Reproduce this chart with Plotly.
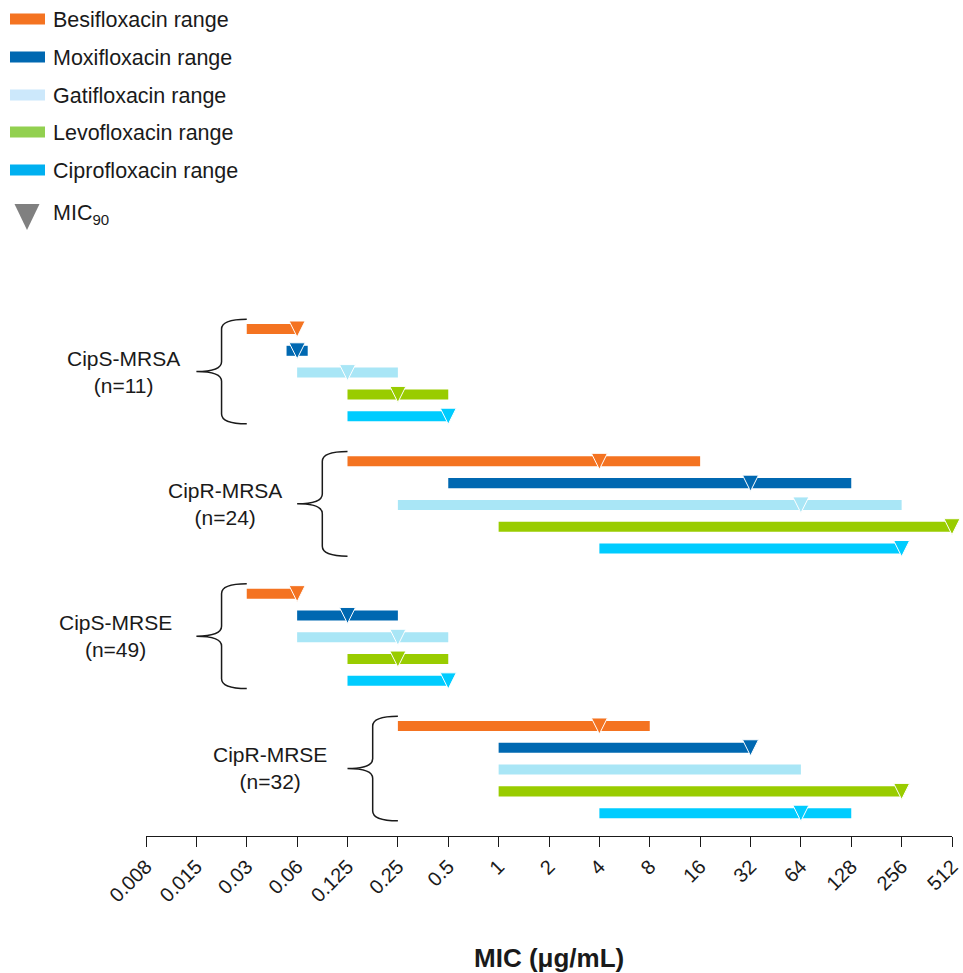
import plotly.graph_objects as go

# ---------------- data ----------------
MIC_STEPS = [0.008, 0.015, 0.03, 0.06, 0.125, 0.25, 0.5, 1, 2, 4, 8, 16, 32, 64, 128, 256, 512]
TICK_LABELS = ["0.008", "0.015", "0.03", "0.06", "0.125", "0.25", "0.5", "1", "2", "4",
               "8", "16", "32", "64", "128", "256", "512"]

GROUPS = ["CipS-MRSA", "CipR-MRSA", "CipS-MRSE", "CipR-MRSE"]
GROUP_N = [11, 24, 49, 32]

DRUGS = ["Besifloxacin", "Moxifloxacin", "Gatifloxacin", "Levofloxacin", "Ciprofloxacin"]

BESI_MIN = [0.03, 0.125, 0.03, 0.25]
BESI_MAX = [0.06, 16, 0.06, 8]
BESI_MIC90 = [0.06, 4, 0.06, 4]

MOXI_MIN = [0.06, 0.5, 0.06, 1]
MOXI_MAX = [0.06, 128, 0.25, 32]
MOXI_MIC90 = [0.06, 32, 0.125, 32]

GATI_MIN = [0.06, 0.25, 0.06, 1]
GATI_MAX = [0.25, 256, 0.5, 64]
GATI_MIC90 = [0.125, 64, 0.25, None]

LEVO_MIN = [0.125, 1, 0.125, 1]
LEVO_MAX = [0.5, 512, 0.5, 256]
LEVO_MIC90 = [0.25, 512, 0.25, 256]

CIPRO_MIN = [0.125, 4, 0.125, 4]
CIPRO_MAX = [0.5, 256, 0.5, 128]
CIPRO_MIC90 = [0.5, 256, 0.5, 64]

RANGES_MIN = [BESI_MIN, MOXI_MIN, GATI_MIN, LEVO_MIN, CIPRO_MIN]
RANGES_MAX = [BESI_MAX, MOXI_MAX, GATI_MAX, LEVO_MAX, CIPRO_MAX]
MIC90S = [BESI_MIC90, MOXI_MIC90, GATI_MIC90, LEVO_MIC90, CIPRO_MIC90]

# ---------------- style ----------------
BAR_COLORS = ["#F47321", "#0068B1", "#A9E6F6", "#99CC00", "#00CCFF"]
LEGEND_COLORS = ["#F47321", "#0068B1", "#CCE8FB", "#92D050", "#00B0F0"]
TEXT = "#1a1a1a"
FONT = "Liberation Sans, Arial, Helvetica, sans-serif"

W, H = 963, 973
ML, MR, MT, MB = 146, 11, 300, 137
ROW_PX = 21.8
GROUP_STRIDE = 6.07
FIRST_ROW_PX = 329
BAR_W = 0.46
SINGLE_HALF = 0.21
TRI_SIZE = 16
TRI_OFFSET = (TRI_SIZE / 2) / ROW_PX
LABEL_SHIFT = [-73, -72, -81, -78]

PW, PH = W - ML - MR, H - MT - MB


def fx(p):
    return (p - ML) / PW


def fy(p):
    return (H - MB - p) / PH


def step(v):
    return MIC_STEPS.index(v)


def row(g, d):
    return g * GROUP_STRIDE + d


fig = go.Figure()

# range bars
for d, drug in enumerate(DRUGS):
    bases, lens, ys = [], [], []
    for g in range(len(GROUPS)):
        lo, hi = step(RANGES_MIN[d][g]), step(RANGES_MAX[d][g])
        if lo == hi:
            bases.append(lo - SINGLE_HALF)
            lens.append(2 * SINGLE_HALF)
        else:
            bases.append(lo)
            lens.append(hi - lo)
        ys.append(row(g, d))
    fig.add_trace(go.Bar(orientation="h", base=bases, x=lens, y=ys, width=BAR_W,
                         marker=dict(color=BAR_COLORS[d], line=dict(width=0)),
                         name=drug + " range", hoverinfo="skip"))

# MIC90 markers
for d, drug in enumerate(DRUGS):
    xs, ys = [], []
    for g in range(len(GROUPS)):
        m = MIC90S[d][g]
        if m is None:
            continue
        xs.append(step(m))
        ys.append(row(g, d) + TRI_OFFSET)
    fig.add_trace(go.Scatter(x=xs, y=ys, mode="markers", cliponaxis=False,
                             marker=dict(symbol="arrow-down", size=TRI_SIZE, color=BAR_COLORS[d],
                                         line=dict(color="white", width=1)),
                             name=drug + " MIC90", hoverinfo="skip"))

shapes = []
annotations = []

# braces and group labels
for g, name in enumerate(GROUPS):
    xs = min(step(RANGES_MIN[d][g]) for d in range(len(DRUGS)))
    top = row(g, 0) - 0.45
    bot = row(g, len(DRUGS) - 1) + 0.35
    mid = (top + bot) / 2
    vx = xs - 0.5
    tip = xs - 1.0
    c = 0.45
    path = (f"M{xs},{top} Q{vx},{top} {vx},{top + c} L{vx},{mid - c} "
            f"Q{vx},{mid} {tip},{mid} Q{vx},{mid} {vx},{mid + c} "
            f"L{vx},{bot - c} Q{vx},{bot} {xs},{bot}")
    shapes.append(dict(type="path", xref="x", yref="y", path=path,
                       line=dict(color=TEXT, width=1.5)))
    annotations.append(dict(x=tip, y=mid, xref="x", yref="y", xshift=LABEL_SHIFT[g],
                            text=f"{name}<br>(n={GROUP_N[g]})", showarrow=False,
                            xanchor="center", yanchor="middle", align="center",
                            font=dict(family=FONT, size=21, color=TEXT)))

# legend (drawn manually)
LEG_Y = [19, 57, 95, 132, 170]
for d, drug in enumerate(DRUGS):
    yc = LEG_Y[d]
    shapes.append(dict(type="rect", xref="paper", yref="paper",
                       x0=fx(10), x1=fx(45), y0=fy(yc - 5.5), y1=fy(yc + 5.5),
                       fillcolor=LEGEND_COLORS[d], line=dict(width=0)))
    annotations.append(dict(x=fx(51), y=fy(yc + 1), xref="paper", yref="paper",
                            text=f"{drug} range", showarrow=False,
                            xanchor="left", yanchor="middle",
                            font=dict(family=FONT, size=21.5, color=TEXT)))
shapes.append(dict(type="path", xref="paper", yref="paper",
                   path=f"M{fx(14.5)},{fy(204)} L{fx(39.5)},{fy(204)} L{fx(27)},{fy(230)} Z",
                   fillcolor="#808080", line=dict(width=0)))
annotations.append(dict(x=fx(51), y=fy(214), xref="paper", yref="paper",
                        text="MIC<sub>90</sub>", showarrow=False,
                        xanchor="left", yanchor="middle",
                        font=dict(family=FONT, size=21.5, color=TEXT)))

# axis title
annotations.append(dict(x=0.5, y=fy(958), xref="paper", yref="paper",
                        text="<b>MIC (μg/mL)</b>", showarrow=False,
                        xanchor="center", yanchor="middle",
                        font=dict(family=FONT, size=26, color=TEXT)))

fig.update_layout(
    width=W, height=H, autosize=False,
    margin=dict(l=ML, r=MR, t=MT, b=MB, pad=0, autoexpand=False),
    paper_bgcolor="white", plot_bgcolor="white",
    showlegend=False, barmode="overlay",
    shapes=shapes, annotations=annotations,
    font=dict(family=FONT, color=TEXT),
    xaxis=dict(range=[0, len(MIC_STEPS) - 1], tickmode="array", automargin=False,
               tickvals=list(range(len(MIC_STEPS))), ticktext=TICK_LABELS,
               tickangle=-45, ticks="outside", ticklen=10, tickwidth=1, tickcolor=TEXT,
               showline=True, linecolor=TEXT, linewidth=1, showgrid=False, zeroline=False,
               tickfont=dict(family=FONT, size=20, color=TEXT), fixedrange=True),
    yaxis=dict(range=[(H - MB - FIRST_ROW_PX) / ROW_PX, (MT - FIRST_ROW_PX) / ROW_PX],
               automargin=False,
               showticklabels=False, showline=False, showgrid=False, zeroline=False,
               ticks="", fixedrange=True),
)

fig.write_html("out.html",
               config=dict(displayModeBar=False, responsive=False),
               post_script="document.body.style.margin='0px';document.body.style.overflow='hidden';")
